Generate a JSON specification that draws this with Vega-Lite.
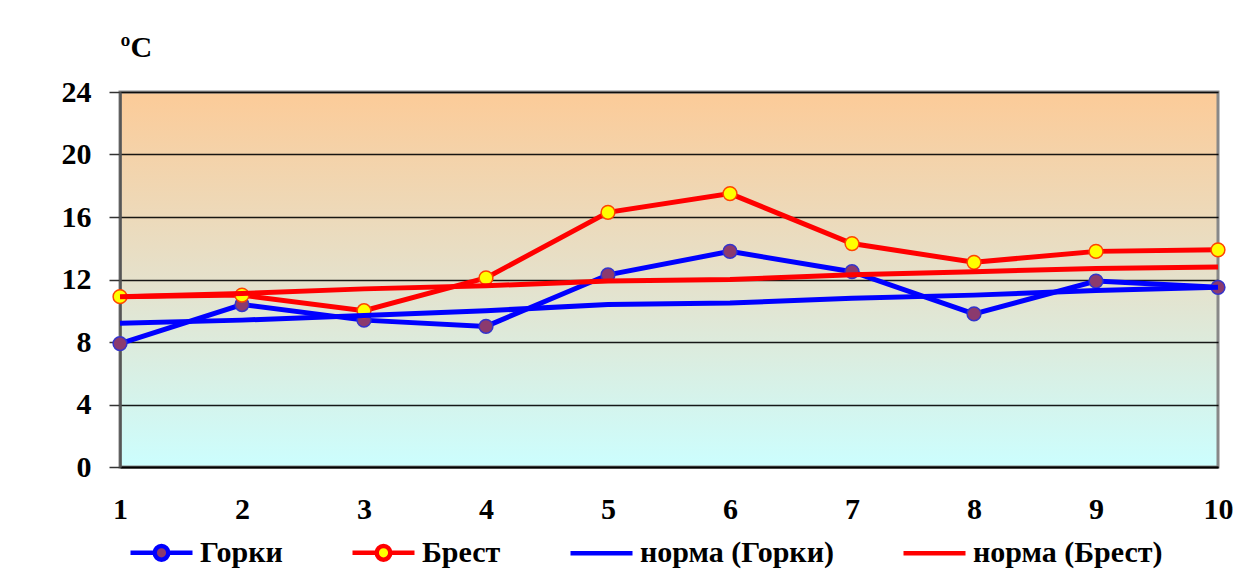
{
  "$schema": "https://vega.github.io/schema/vega-lite/v6.json",
  "autosize": {"type": "none"},
  "padding": {"left": 120, "top": 92, "right": 27, "bottom": 115},
  "width": 1098,
  "height": 375,
  "background": "white",
  "config": {
    "view": {
      "fill": {"gradient": "linear", "x1": 0, "y1": 0, "x2": 0, "y2": 1,
        "stops": [{"offset": 0, "color": "#FCCB98"}, {"offset": 0.5, "color": "#E5E1CB"}, {"offset": 1, "color": "#CCFEFE"}]},
      "stroke": "#888888",
      "strokeWidth": 3
    },
    "font": "Times New Roman, Liberation Serif, serif"
  },
  "data": {"values": [
    {"period": 1, "series": "Горки", "value": 7.9},
    {"period": 2, "series": "Горки", "value": 10.4},
    {"period": 3, "series": "Горки", "value": 9.4},
    {"period": 4, "series": "Горки", "value": 9.0},
    {"period": 5, "series": "Горки", "value": 12.3},
    {"period": 6, "series": "Горки", "value": 13.8},
    {"period": 7, "series": "Горки", "value": 12.5},
    {"period": 8, "series": "Горки", "value": 9.8},
    {"period": 9, "series": "Горки", "value": 11.9},
    {"period": 10, "series": "Горки", "value": 11.5},
    {"period": 1, "series": "Брест", "value": 10.9},
    {"period": 2, "series": "Брест", "value": 11.0},
    {"period": 3, "series": "Брест", "value": 10.0},
    {"period": 4, "series": "Брест", "value": 12.1},
    {"period": 5, "series": "Брест", "value": 16.3},
    {"period": 6, "series": "Брест", "value": 17.5},
    {"period": 7, "series": "Брест", "value": 14.3},
    {"period": 8, "series": "Брест", "value": 13.1},
    {"period": 9, "series": "Брест", "value": 13.8},
    {"period": 10, "series": "Брест", "value": 13.9},
    {"period": 1, "series": "норма (Горки)", "value": 9.2},
    {"period": 2, "series": "норма (Горки)", "value": 9.4},
    {"period": 3, "series": "норма (Горки)", "value": 9.7},
    {"period": 4, "series": "норма (Горки)", "value": 10.0},
    {"period": 5, "series": "норма (Горки)", "value": 10.4},
    {"period": 6, "series": "норма (Горки)", "value": 10.5},
    {"period": 7, "series": "норма (Горки)", "value": 10.8},
    {"period": 8, "series": "норма (Горки)", "value": 11.0},
    {"period": 9, "series": "норма (Горки)", "value": 11.3},
    {"period": 10, "series": "норма (Горки)", "value": 11.5},
    {"period": 1, "series": "норма (Брест)", "value": 10.9},
    {"period": 2, "series": "норма (Брест)", "value": 11.1},
    {"period": 3, "series": "норма (Брест)", "value": 11.4},
    {"period": 4, "series": "норма (Брест)", "value": 11.6},
    {"period": 5, "series": "норма (Брест)", "value": 11.9},
    {"period": 6, "series": "норма (Брест)", "value": 12.0},
    {"period": 7, "series": "норма (Брест)", "value": 12.3},
    {"period": 8, "series": "норма (Брест)", "value": 12.5},
    {"period": 9, "series": "норма (Брест)", "value": 12.7},
    {"period": 10, "series": "норма (Брест)", "value": 12.8}
  ]},
  "encoding": {
    "x": {
      "field": "period", "type": "ordinal",
      "scale": {"type": "point", "padding": 0},
      "axis": {
        "title": null, "labelAngle": 0, "ticks": false,
        "domainColor": "#000000", "domainWidth": 2,
        "labelFontSize": 30, "labelFontWeight": "bold",
        "labelColor": "#000000", "labelPadding": 27,
        "labelBound": false, "labelOverlap": false, "labelFlush": false
      }
    },
    "y": {
      "field": "value", "type": "quantitative",
      "scale": {"domain": [0, 24], "nice": false},
      "axis": {
        "values": [0, 4, 8, 12, 16, 20, 24],
        "title": "ºC", "titleAngle": 0, "titleAlign": "left", "titleBaseline": "alphabetic",
        "titleX": 0, "titleY": -36,
        "titleFontSize": 30, "titleFontWeight": "bold", "titleColor": "#000000",
        "labelFontSize": 30, "labelFontWeight": "bold",
        "labelColor": "#000000", "labelPadding": 18,
        "tickSize": 11, "tickColor": "#333333", "tickWidth": 1.5,
        "domainColor": "#555555", "domainWidth": 2.5,
        "grid": true, "gridColor": "#000000", "gridWidth": 1.3, "gridOpacity": 0.9
      }
    }
  },
  "layer": [
    {
      "transform": [{"filter": "datum.series === 'Горки' || datum.series === 'Брест'"}],
      "mark": {"type": "line", "strokeWidth": 5},
      "encoding": {
        "color": {
          "field": "series", "type": "nominal",
          "scale": {"domain": ["Горки", "Брест", "норма (Горки)", "норма (Брест)"], "range": ["#0000FF", "#FF0000", "#0000FF", "#FF0000"]},
          "legend": {
            "title": null, "orient": "none", "direction": "horizontal", "columns": 4,
            "legendX": 8, "legendY": 427,
            "columnPadding": 60,
            "symbolSize": 3844, "symbolStrokeWidth": 4.5,
            "labelFontSize": 30, "labelFontWeight": "bold",
            "labelColor": "#000000", "labelOffset": 5, "labelLimit": 400,
            "encode": {
              "symbols": {
                "update": {
                  "shape": {"signal": "(datum.value === 'Горки' || datum.value === 'Брест') ? 'M-1,0H-0.22A0.22,0.22 0 1,1 0.22,0H1M0.22,0A0.22,0.22 0 1,1 -0.22,0' : 'M-1,0H1'"},
                  "fill": {"signal": "datum.value === 'Горки' ? '#8B3A6E' : (datum.value === 'Брест' ? '#FFFF00' : 'transparent')"},
                  "fillOpacity": {"value": 1}
                }
              }
            }
          }
        },
        "detail": {"field": "series"}
      }
    },
    {
      "transform": [{"filter": "datum.series === 'Горки'"}],
      "mark": {"type": "point", "filled": true, "size": 190, "fill": "#8B3A6E", "stroke": "#3333CC", "strokeWidth": 1.5, "opacity": 1, "fillOpacity": 1}
    },
    {
      "transform": [{"filter": "datum.series === 'Брест'"}],
      "mark": {"type": "point", "filled": true, "size": 190, "fill": "#FFFF00", "stroke": "#FF4400", "strokeWidth": 1.5, "opacity": 1, "fillOpacity": 1}
    },
    {
      "transform": [{"filter": "datum.series === 'норма (Горки)' || datum.series === 'норма (Брест)'"}],
      "mark": {"type": "line", "strokeWidth": 5},
      "encoding": {
        "color": {"field": "series", "type": "nominal"},
        "detail": {"field": "series"}
      }
    }
  ]
}
